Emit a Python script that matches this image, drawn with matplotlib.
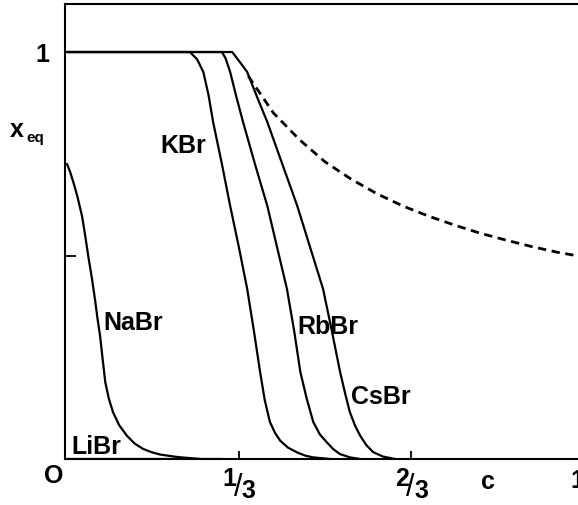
import matplotlib
matplotlib.use('Agg')
import matplotlib.pyplot as plt

plt.rcParams['font.family'] = ['Liberation Sans', 'DejaVu Sans']

# curves: concentration c, equilibrium fraction x_eq
kbr_c = [0.0, 0.238, 0.252, 0.264, 0.274, 0.283, 0.300, 0.316, 0.333, 0.349, 0.362,
         0.374, 0.383, 0.393, 0.403, 0.413, 0.428, 0.446, 0.462, 0.477, 0.510]
kbr_x = [1.0, 1.0, 0.982, 0.951, 0.895, 0.828, 0.725, 0.622, 0.520, 0.418, 0.315,
         0.214, 0.145, 0.091, 0.064, 0.045, 0.028, 0.016, 0.008, 0.004, 0.0]

rbbr_c = [0.0, 0.300, 0.307, 0.316, 0.328, 0.341, 0.364, 0.388, 0.407, 0.426, 0.440,
          0.452, 0.464, 0.477, 0.490, 0.504, 0.516, 0.529, 0.548, 0.568]
rbbr_x = [1.0, 1.0, 0.985, 0.951, 0.890, 0.828, 0.725, 0.622, 0.520, 0.418, 0.315,
          0.214, 0.150, 0.091, 0.060, 0.040, 0.024, 0.012, 0.004, 0.0]

csbr_c = [0.0, 0.320, 0.335, 0.349, 0.368, 0.388, 0.417, 0.446, 0.471, 0.496, 0.513,
          0.529, 0.539, 0.548, 0.558, 0.568, 0.580, 0.593, 0.612, 0.636]
csbr_x = [1.0, 1.0, 0.975, 0.951, 0.890, 0.828, 0.725, 0.622, 0.520, 0.418, 0.315,
          0.214, 0.160, 0.115, 0.082, 0.057, 0.034, 0.017, 0.006, 0.0]

nabr_c = [0.0, 0.006, 0.012, 0.020, 0.029, 0.035, 0.041, 0.048, 0.054, 0.059, 0.064,
          0.069, 0.074, 0.081, 0.089, 0.101, 0.116, 0.131, 0.147, 0.163, 0.180, 0.213, 0.258]
nabr_x = [0.725, 0.705, 0.681, 0.645, 0.597, 0.550, 0.499, 0.445, 0.393, 0.345, 0.302,
          0.245, 0.189, 0.148, 0.115, 0.083, 0.057, 0.038, 0.025, 0.017, 0.011, 0.005, 0.0]

libr_c = [0.0, 0.30]
libr_x = [0.0, 0.0]

limit_c = [0.351, 0.40, 0.45, 0.50, 0.55, 0.60, 0.65, 0.70, 0.75, 0.80, 0.85, 0.90, 0.95, 0.99]
limit_x = [0.941, 0.850, 0.785, 0.730, 0.688, 0.652, 0.622, 0.597, 0.575, 0.555, 0.538,
           0.522, 0.508, 0.499]

fig = plt.figure(figsize=(5.78, 5.06), dpi=100)
ax = fig.add_axes([65 / 578, 46 / 506, 513 / 578, 455 / 506])

lw = 1.6
for cc, xx in [(kbr_c, kbr_x), (rbbr_c, rbbr_x), (csbr_c, csbr_x),
               (nabr_c, nabr_x), (libr_c, libr_x)]:
    ax.plot(cc, xx, color='black', lw=lw, solid_capstyle='round', solid_joinstyle='round')
ax.plot(limit_c, limit_x, color='black', lw=2.0, linestyle=(0, (3, 2)))

ax.set_xlim(-0.004, 0.99)
ax.set_ylim(0, 1.118)

for s in ['left', 'bottom', 'top']:
    ax.spines[s].set_linewidth(1.5)
ax.spines['right'].set_visible(False)

ax.set_xticks([1 / 3, 2 / 3])
ax.set_yticks([0.5, 1.0])
ax.tick_params(axis='x', direction='in', length=6, width=1.3, labelbottom=False)
ax.tick_params(axis='y', direction='in', length=8, width=1.3, labelleft=False)

fs = 18
bold = dict(fontsize=fs, fontweight='bold', ha='center', va='center', clip_on=False)

# curve names
ax.text(0.225, 0.771, 'KBr', **bold)
ax.text(0.128, 0.337, 'NaBr', **bold)
ax.text(0.506, 0.327, 'RbBr', **bold)
ax.text(0.607, 0.155, 'CsBr', **bold)
ax.text(0.056, 0.032, 'LiBr', **bold)

# axis labels
ax.text(-0.047, 0.995, '1', **bold)
ax.text(-0.097, 0.812, 'x', **bold)
ax.text(-0.061, 0.790, 'eq', fontsize=11, fontweight='bold', ha='center', va='center', clip_on=False)
ax.text(-0.025, -0.039, 'O', **bold)
ax.text(0.816, -0.054, 'c', **bold)
ax.text(0.989, -0.052, '1', **bold)

# fraction tick labels
for num, base in [('1', 1 / 3), ('2', 2 / 3)]:
    ax.text(base - 0.018, -0.047, num, **bold)
    ax.text(base - 0.002, -0.069, '/', fontsize=22, ha='center', va='center', clip_on=False)
    ax.text(base + 0.019, -0.077, '3', **bold)

fig.savefig('out.png', dpi=100)
